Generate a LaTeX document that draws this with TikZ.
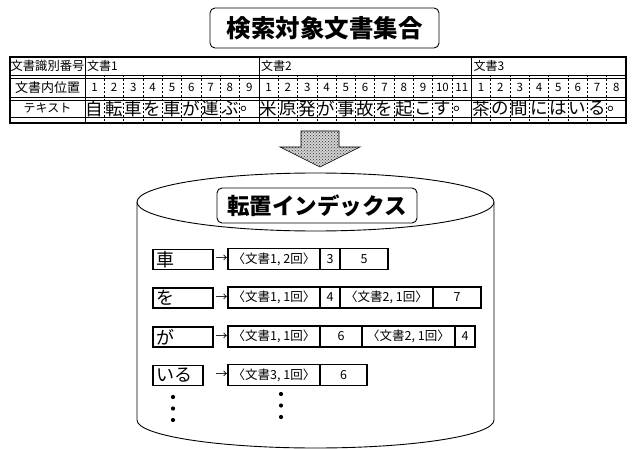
\documentclass[tikz,border=0pt]{standalone}
\usepackage{fontspec}
\setmainfont{Noto Sans CJK JP}
\usetikzlibrary{patterns}
\newcommand{\fsz}[1]{\fontsize{#1}{#1}\selectfont}
\begin{document}
\begin{tikzpicture}[x=1pt,y=-1pt,
  titlebox/.style={draw, rounded corners=5pt, line width=0.9pt, inner sep=0pt},
  thinline/.style={line width=0.7pt},
  dashline/.style={line width=0.7pt, dash pattern=on 2.5pt off 1.5pt},
  tlabel/.style={inner sep=0pt, font=\fsz{12.3}},
  tnum/.style={inner sep=0pt, font=\fsz{11.5}},
  tchar/.style={inner sep=0pt, font=\fsz{17.5}},
  keybox/.style={draw, line width=1.5pt, outer sep=0pt, minimum height=20pt, inner xsep=3pt, inner ysep=0pt, align=left, font=\fsz{18}, anchor=west},
  cell/.style={draw, line width=1.5pt, outer sep=0pt, minimum height=21pt, inner sep=0pt, font=\fsz{12.5}, anchor=west},
  arr/.style={inner sep=0pt, font=\fsz{12}},
  dotnode/.style={circle, fill=black, inner sep=0pt, minimum size=4.2pt}
]
\useasboundingbox (0,0) rectangle (634,449);

% title
\node[titlebox, minimum width=229pt, minimum height=40pt, font=\fsz{24.5}\bfseries] (title) at (324.5,28) {検索対象文書集合};

% table
\pgfmathsetmacro{\cw}{(626-85)/28}
\draw[line width=1.6pt] (10,57) rectangle (626,123);
\foreach \yy in {75,78,97,100,117} \draw[thinline] (10,\yy) -- (626,\yy);
\foreach \i in {0,9,20} \draw[thinline] ({85+\i*\cw},57) -- ({85+\i*\cw},123);
\foreach \i in {1,...,27} {
  \ifnum\i=9 \else\ifnum\i=20 \else
  \draw[dashline] ({85+\i*\cw},75) -- ({85+\i*\cw},123);
  \fi\fi
}
\node[tlabel] (lab1) at (47.5,66) {文書識別番号};
\node[tlabel, font=\fsz{13}] (lab2) at (47.5,87.5) {文書内位置};
\node[tnum, font=\fsz{12}] (lab3) at (47.5,108.5) {テキスト};
\node[tlabel, anchor=west, font=\fsz{12}] (doc1) at (87,66) {文書1};
\node[tlabel, anchor=west, font=\fsz{12}] (doc2) at ({87+9*\cw},66) {文書2};
\node[tlabel, anchor=west, font=\fsz{12}] (doc3) at ({87+20*\cw},66) {文書3};
% positions
\foreach \n [count=\k from 0] in {1,...,9} \node[tnum] (pa\n) at ({85+(\k+0.5)*\cw},87.5) {\n};
\foreach \n [count=\k from 9] in {1,...,11} \node[tnum] (pb\n) at ({85+(\k+0.5)*\cw},87.5) {\n};
\foreach \n [count=\k from 20] in {1,...,8} \node[tnum] (pc\n) at ({85+(\k+0.5)*\cw},87.5) {\n};
% characters
\foreach \c [count=\k from 0] in {自,転,車,を,車,が,運,ぶ,。,米,原,発,が,事,故,を,起,こ,す,。,茶,の,間,に,は,い,る,。}
  \node[tchar] (ch\k) at ({85+(\k+0.5)*\cw},108.5) {\c};

% gray arrow
\fill[gray!35] (301,131) -- (339,131) -- (339,147) -- (360,147) -- (320,167) -- (280,147) -- (301,147) -- cycle;
\fill[pattern=crosshatch dots, pattern color=black!80]
  (301,131) -- (339,131) -- (339,147) -- (360,147) -- (320,167) -- (280,147) -- (301,147) -- cycle;
\draw[line width=0.6pt] (301,131) -- (339,131) -- (339,147) -- (360,147) -- (320,167) -- (280,147) -- (301,147) -- cycle;

% cylinder
\draw[line width=0.9pt, fill=white] (137,202) -- (137,420) arc[start angle=180, end angle=0, x radius=178.5, y radius=28] -- (494,202);
\draw[line width=0.9pt, fill=white] (315.5,202) ellipse [x radius=178.5, y radius=29];

\node[titlebox, minimum width=200pt, minimum height=35pt, font=\fsz{22.5}\bfseries] (ititle) at (317,205.5) {転置インデックス};

% row 1
\node[keybox, text width=54pt] (k1) at (153,259.5) {車};
\node[arr] (a1) at (221.5,259) {→};
\node[cell, minimum width=92pt] (r1a) at (228,259) {〈文書1, 2回〉};
\node[cell, minimum width=20pt] (r1b) at (r1a.east) {3};
\node[cell, minimum width=48pt] (r1c) at (r1b.east) {5};
% row 2
\node[keybox, text width=54pt] (k2) at (153,298) {を};
\node[arr] (a2) at (221.5,297.5) {→};
\node[cell, minimum width=92pt] (r2a) at (228,297.5) {〈文書1, 1回〉};
\node[cell, minimum width=20pt] (r2b) at (r2a.east) {4};
\node[cell, minimum width=93pt] (r2c) at (r2b.east) {〈文書2, 1回〉};
\node[cell, minimum width=48pt] (r2d) at (r2c.east) {7};
% row 3
\node[keybox, text width=54pt] (k3) at (153,337) {が};
\node[arr] (a3) at (221.5,336.5) {→};
\node[cell, minimum width=92pt] (r3a) at (228,336.5) {〈文書1, 1回〉};
\node[cell, minimum width=42pt] (r3b) at (r3a.east) {6};
\node[cell, minimum width=93pt] (r3c) at (r3b.east) {〈文書2, 1回〉};
\node[cell, minimum width=20pt] (r3d) at (r3c.east) {4};
% row 4
\node[keybox, text width=44pt] (k4) at (153,375.5) {いる};
\node[arr] (a4) at (221.5,375) {→};
\node[cell, minimum width=92pt] (r4a) at (228,375) {〈文書3, 1回〉};
\node[cell, minimum width=47pt] (r4b) at (r4a.east) {6};

% dots
\node[dotnode] (dl1) at (173,397) {};
\node[dotnode] (dl2) at (173,408.5) {};
\node[dotnode] (dl3) at (173,420) {};
\node[dotnode] (dm1) at (281,394) {};
\node[dotnode] (dm2) at (281,405.5) {};
\node[dotnode] (dm3) at (281,417) {};
\end{tikzpicture}
\end{document}
